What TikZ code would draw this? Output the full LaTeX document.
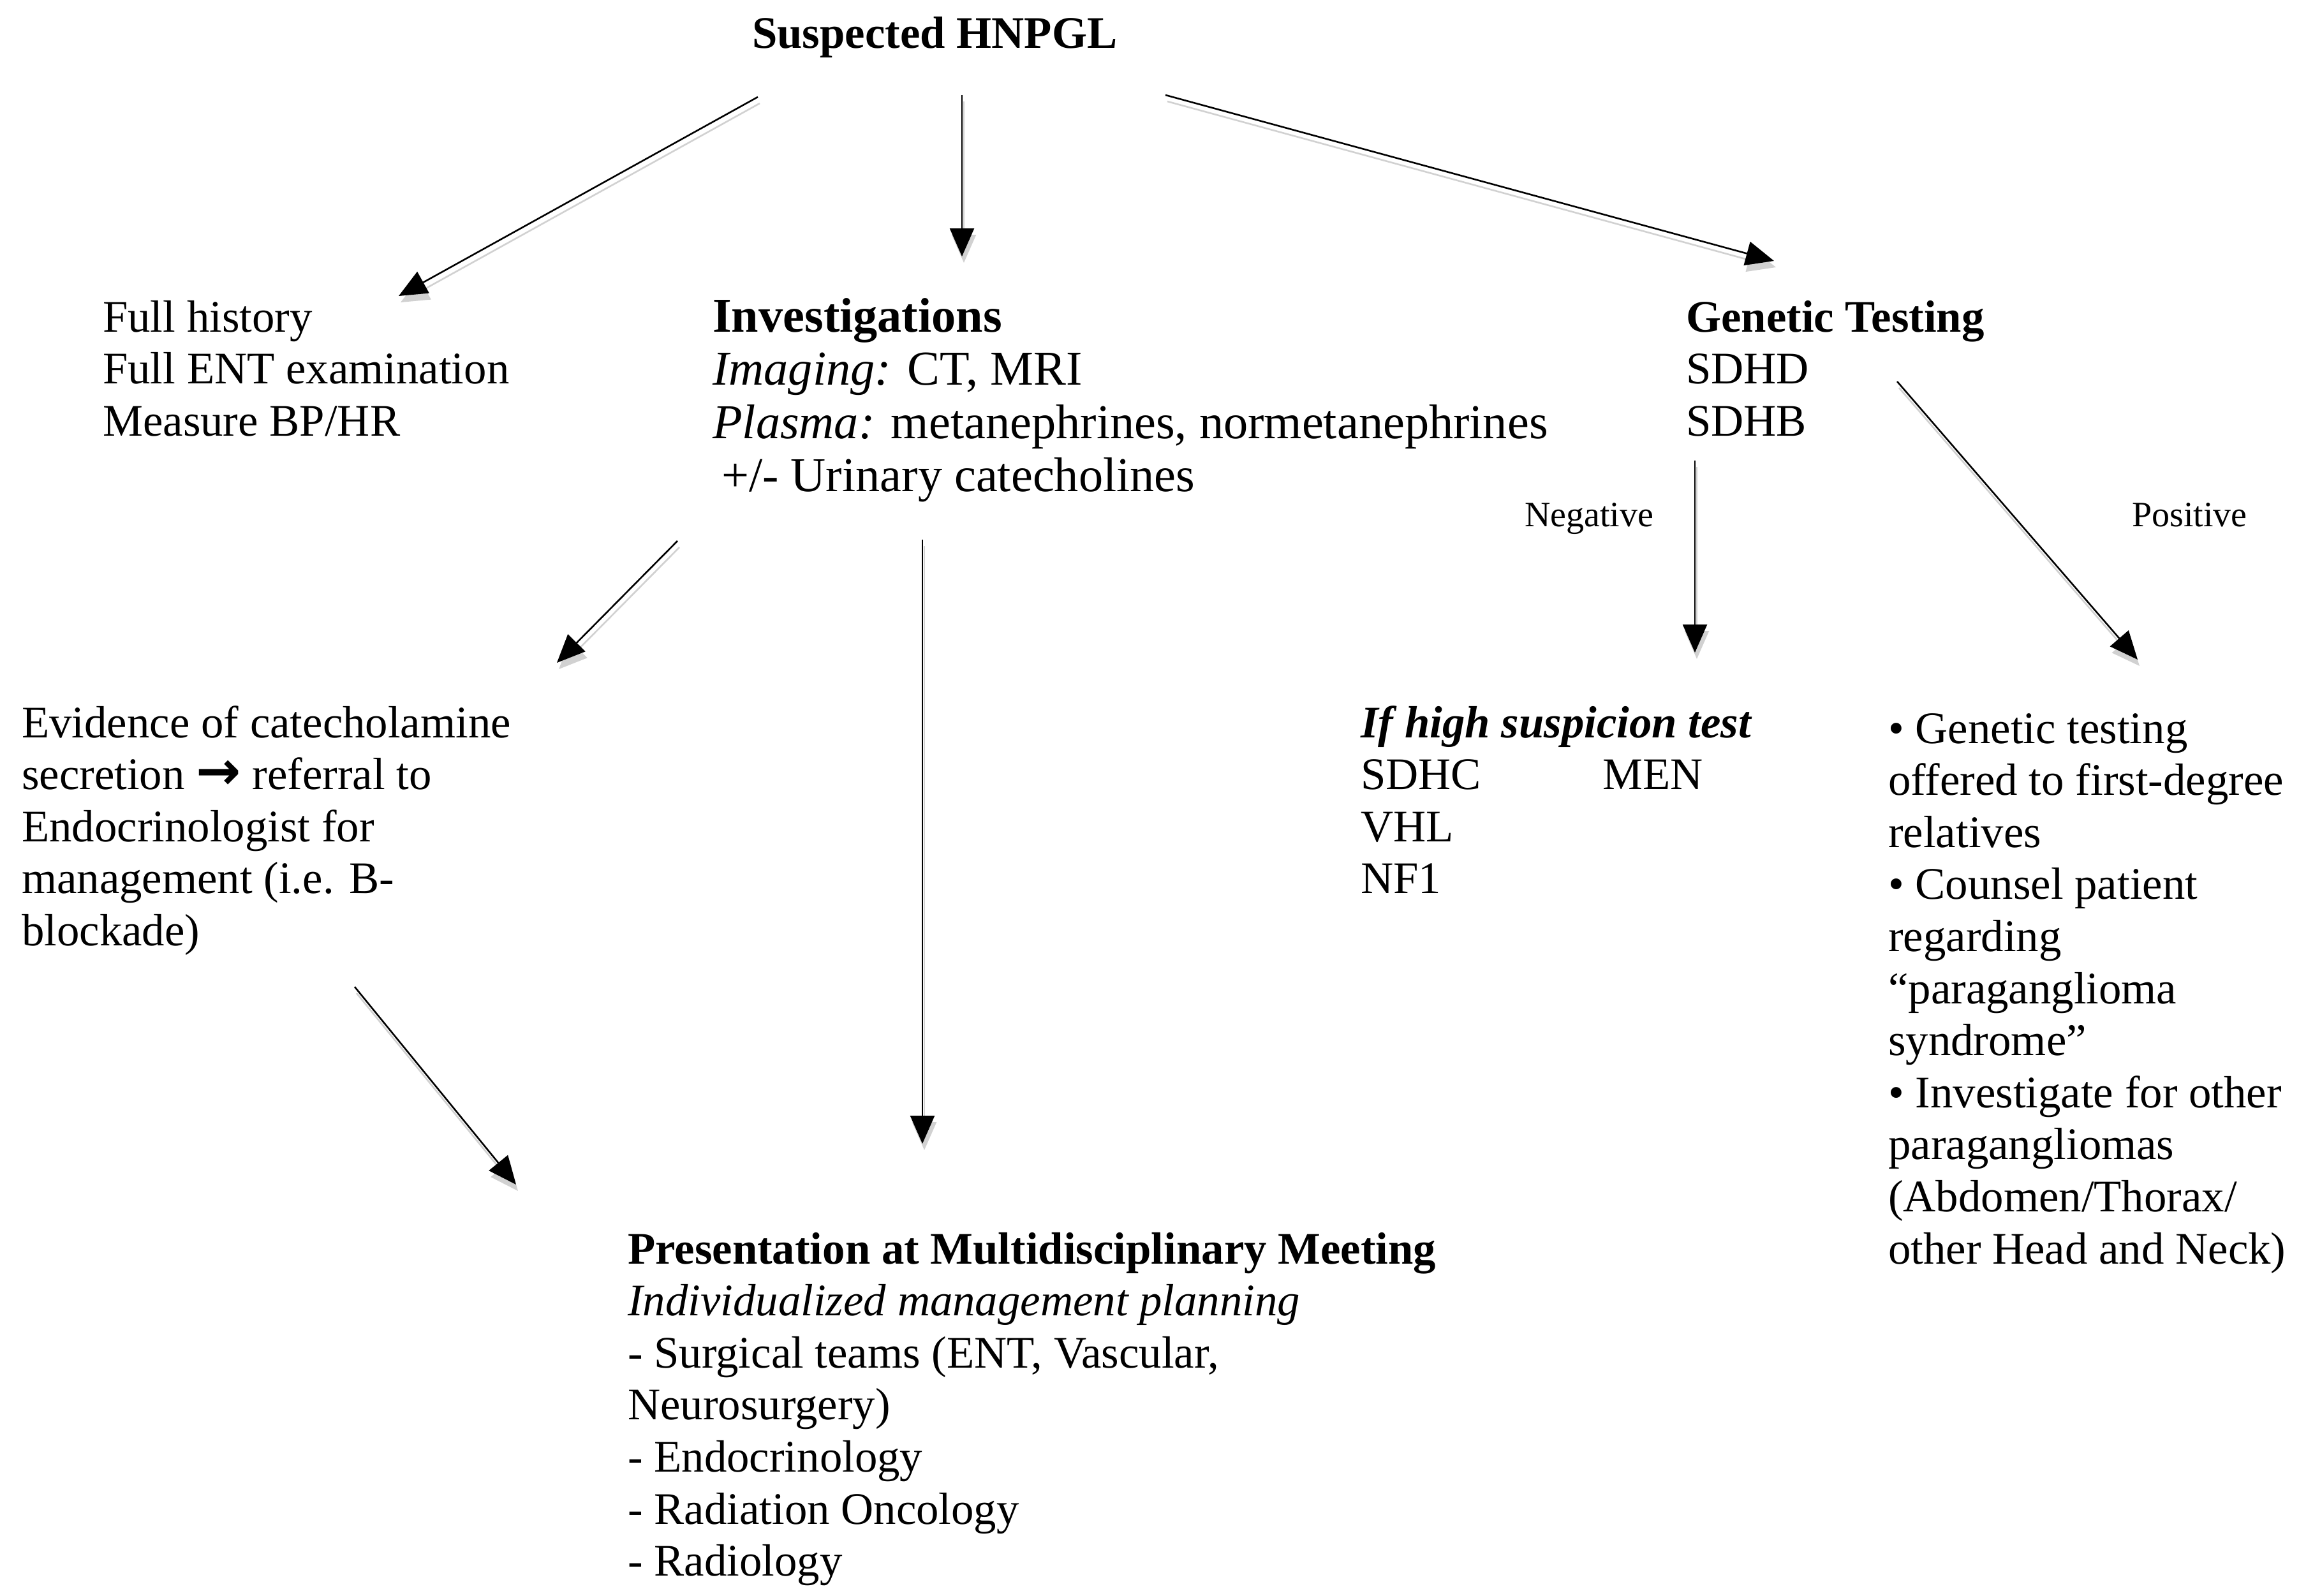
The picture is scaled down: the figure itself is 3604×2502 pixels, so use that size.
\documentclass[tikz,border=0pt]{standalone}
\usepackage{fontspec}
\setmainfont{Liberation Serif}
\newfontfamily\arrowfont{DejaVu Sans}
\usetikzlibrary{arrows.meta}
\newcommand{\blk}[1]{\begin{tabular}[t]{@{}l@{}}#1\end{tabular}}
\begin{document}
\begin{tikzpicture}[x=1pt,y=-1pt,
  txt/.style={anchor=base west, inner sep=0pt, font=\fontsize{70.8}{81.6}\selectfont},
  bigtxt/.style={anchor=base west, inner sep=0pt, font=\fontsize{76.3}{83.5}\selectfont},
  smalltxt/.style={anchor=base west, inner sep=0pt, font=\fontsize{56}{64}\selectfont},
  arr/.style={line width=2.6pt, -{Triangle[length=44pt,width=38pt]},
    preaction={draw=black!18, line width=2.6pt, -{Triangle[length=44pt,width=38pt]},
      transform canvas={shift={(3pt,-10pt)}}}}
]
\useasboundingbox (0,0) rectangle (3604,2502);

% text blocks
\node[txt] (title) at (1179,76) {\textbf{Suspected HNPGL}};
\node[txt] (hist) at (161,520) {\blk{Full history\\Full ENT examination\\Measure BP/HR}};
\node[bigtxt] (inv) at (1117,520) {\blk{\textbf{Investigations}\\{\itshape Imaging:} CT, MRI\\{\itshape Plasma:} metanephrines, normetanephrines\\\hspace{14pt}+/- Urinary catecholines}};
\node[txt] (gen) at (2643,520) {\blk{\textbf{Genetic Testing}\\SDHD\\SDHB}};
\node[smalltxt] (neg) at (2390,825) {Negative};
\node[smalltxt] (pos) at (3342,825) {Positive};
\node[txt] (evid) at (34,1156) {\blk{Evidence of catecholamine\\secretion {\arrowfont\bfseries\fontsize{84}{81.6}\selectfont →} referral to\\Endocrinologist for\\management (i.e. B-\\blockade)}};
\node[txt] (high) at (2133,1156) {\blk{{\bfseries\itshape If high suspicion test}\\\makebox[379pt][l]{SDHC}MEN\\VHL\\NF1}};
\node[txt] (pos2) at (2960,1165) {\blk{• Genetic testing\\offered to first-degree\\relatives\\• Counsel patient\\regarding\\“paraganglioma\\syndrome”\\• Investigate for other\\paragangliomas\\(Abdomen/Thorax/\\other Head and Neck)}};
\node[txt] (mdm) at (984,1981) {\blk{\textbf{Presentation at Multidisciplinary Meeting}\\{\itshape Individualized management planning}\\- Surgical teams (ENT, Vascular,\\Neurosurgery)\\- Endocrinology\\- Radiation Oncology\\- Radiology}};

% connector end points
\coordinate (a1s) at (1188,152); \coordinate (a1e) at (625,464);
\coordinate (a2s) at (1508,149); \coordinate (a2e) at (1508,402);
\coordinate (a3s) at (1827,149); \coordinate (a3e) at (2781,409);
\coordinate (a4s) at (1062,848); \coordinate (a4e) at (873,1039);
\coordinate (a5s) at (1446,846); \coordinate (a5e) at (1446,1793);
\coordinate (a6s) at (556,1547); \coordinate (a6e) at (809,1857);
\coordinate (a7s) at (2657,722); \coordinate (a7e) at (2657,1023);
\coordinate (a8s) at (2974,598); \coordinate (a8e) at (3351,1034);

\draw[arr] (a1s) -- (a1e);
\draw[arr] (a2s) -- (a2e);
\draw[arr] (a3s) -- (a3e);
\draw[arr] (a4s) -- (a4e);
\draw[arr] (a5s) -- (a5e);
\draw[arr] (a6s) -- (a6e);
\draw[arr] (a7s) -- (a7e);
\draw[arr] (a8s) -- (a8e);
\end{tikzpicture}
\end{document}
